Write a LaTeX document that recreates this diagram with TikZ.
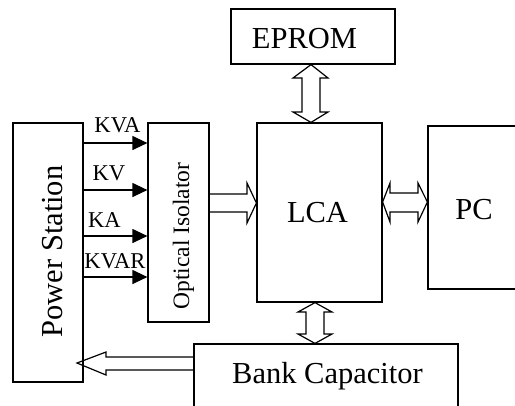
\documentclass[tikz,border=0pt]{standalone}
\usepackage{fontspec}
\setmainfont{Liberation Serif}
\usetikzlibrary{arrows.meta,calc}
\begin{document}
\begin{tikzpicture}[x=1bp,y=-1bp,line width=1.2bp,
  box/.style={draw,inner sep=0pt,minimum width=#1},
  big/.style={font=\fontsize{30.5bp}{34bp}\selectfont,inner sep=0pt,anchor=base},
  mid/.style={font=\fontsize{23.5bp}{26bp}\selectfont,inner sep=0pt,anchor=base},
  small/.style={font=\fontsize{22.6bp}{25bp}\selectfont,inner sep=0pt,anchor=base},
  sig/.style={-{Triangle[length=15bp,width=14bp]}},
  hollow/.style={line join=miter}]
\useasboundingbox (0,0) rectangle (515,405);
\clip (0,0) rectangle (515,405);
% boxes
\node[box=70bp,minimum height=259bp] (ps) at (48,252.5) {};
\node[box=61bp,minimum height=199bp] (opt) at (178.5,222.5) {};
\node[box=125bp,minimum height=179bp] (lca) at (319.5,212.5) {};
\node[box=164bp,minimum height=55bp] (eprom) at (313,36.5) {};
\node[box=110bp,minimum height=163bp] (pc) at (483,207.5) {};
\node[box=264bp,minimum height=80bp] (bank) at (326,384) {};
% texts
\node[big,rotate=90] (pst) at (62,251.5) {Power Station};
\node[mid,rotate=90] (optt) at (189,236) {Optical Isolator};
\node[big] (lcat) at (317.5,222) {LCA};
\node[big] (pct) at (474,219) {PC};
\node[big] (epromt) at (304.5,48) {EPROM};
\node[big] (bankt) at (327.5,383) {Bank Capacitor};
\node[small] (kva) at (117.5,132) {KVA};
\node[small] (kv) at (109,180) {KV};
\node[small] (ka) at (104.5,227) {KA};
\node[small] (kvar) at (115,268) {KVAR};
% signal arrows
\draw[sig] (ps.east |- 0,143) -- (opt.west |- 0,143);
\draw[sig] (ps.east |- 0,190) -- (opt.west |- 0,190);
\draw[sig] (ps.east |- 0,236) -- (opt.west |- 0,236);
\draw[sig] (ps.east |- 0,277) -- (opt.west |- 0,277);
% optical -> LCA hollow arrow
\draw[hollow] (opt.east |- 0,194) -- (247,194) -- (247,183) -- (lca.west |- 0,203)
  -- (247,223) -- (247,212) -- (opt.east |- 0,212);
% EPROM <-> LCA
\draw[hollow] (eprom.south -| 311,0) -- (328,78) -- (320,78) -- (320,112) -- (328,112)
  -- (lca.north -| 311,0) -- (293,112) -- (302,112) -- (302,78) -- (293,78) -- cycle;
% LCA <-> PC
\draw[hollow] (lca.east |- 0,202) -- (390,183) -- (390,193) -- (418,193) -- (418,183)
  -- (pc.west |- 0,202) -- (418,222) -- (418,212) -- (390,212) -- (390,222) -- cycle;
% LCA <-> Bank
\draw[hollow] (lca.south -| 315,0) -- (332,312) -- (324,312) -- (324,334) -- (332,334)
  -- (bank.north -| 315,0) -- (298,334) -- (306,334) -- (306,312) -- (298,312) -- cycle;
% Bank -> Power station
\draw[hollow] (bank.west |- 0,357) -- (106,357) -- (106,352) -- (77,363)
  -- (106,375) -- (106,370) -- (bank.west |- 0,370);
\end{tikzpicture}
\end{document}
